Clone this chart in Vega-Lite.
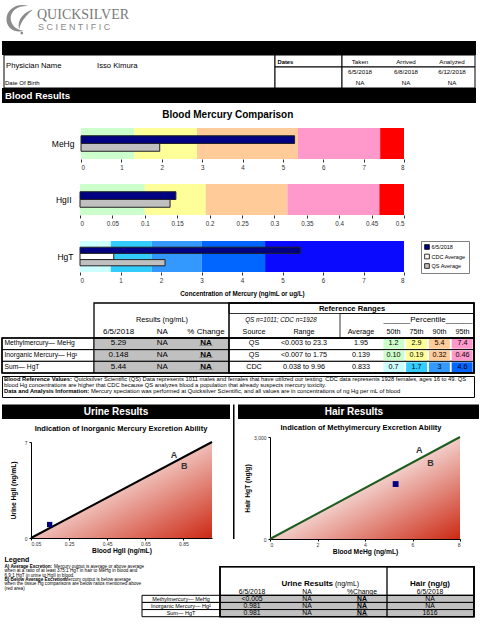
{
"$schema":"https://vega.github.io/schema/vega-lite/v6.json",
"padding":{"left":1,"top":0,"right":0,"bottom":0},
"spacing":0,
"config":{"font":"Liberation Sans","view":{"stroke":null},"text":{"baseline":"middle","color":"#000"},"title":{"color":"#000"}},
"datasets":{
"bands":[
{"analyte":"MeHg","level":"below 50th","from":0,"to":1.32},
{"analyte":"MeHg","level":"50th–75th","from":1.32,"to":2.87},
{"analyte":"MeHg","level":"75th–90th","from":2.87,"to":5.37},
{"analyte":"MeHg","level":"90th–95th","from":5.37,"to":7.41},
{"analyte":"MeHg","level":"above 95th","from":7.41,"to":8},
{"analyte":"HgII","level":"below 50th","from":0,"to":0.1},
{"analyte":"HgII","level":"50th–75th","from":0.1,"to":0.194},
{"analyte":"HgII","level":"75th–90th","from":0.194,"to":0.32},
{"analyte":"HgII","level":"90th–95th","from":0.32,"to":0.462},
{"analyte":"HgII","level":"above 95th","from":0.462,"to":0.5},
{"analyte":"HgT","level":"below 50th","from":0,"to":0.76},
{"analyte":"HgT","level":"50th–75th","from":0.76,"to":1.77},
{"analyte":"HgT","level":"75th–90th","from":1.77,"to":3.0},
{"analyte":"HgT","level":"90th–95th","from":3.0,"to":4.57},
{"analyte":"HgT","level":"above 95th","from":4.57,"to":8}
],
"measures":[
{"analyte":"MeHg","series":"6/5/2018","value":5.29},
{"analyte":"MeHg","series":"QS Average","value":1.95},
{"analyte":"HgII","series":"6/5/2018","value":0.148},
{"analyte":"HgII","series":"QS Average","value":0.139},
{"analyte":"HgT","series":"6/5/2018","value":5.44},
{"analyte":"HgT","series":"CDC Average","value":0.833},
{"analyte":"HgT","series":"QS Average","value":2.1}
],
"table":[
{"analyte":"header","label":"","result":"6/5/2018","previous":"NA","change":"% Change","source":"Source","range":"Range","average":"Average","p50":"50th","p75":"75th","p90":"90th","p95":"95th"},
{"analyte":"MeHg","label":"Methylmercury— MeHg","result":"5.29","previous":"NA","change":"NA","source":"QS","range":"<0.003 to 23.3","average":"1.95","p50":"1.2","p75":"2.9","p90":"5.4","p95":"7.4"},
{"analyte":"HgII","label":"Inorganic Mercury— Hg²","result":"0.148","previous":"NA","change":"NA","source":"QS","range":"<0.007 to 1.75","average":"0.139","p50":"0.10","p75":"0.19","p90":"0.32","p95":"0.46"},
{"analyte":"HgT","label":"Sum— HgT","result":"5.44","previous":"NA","change":"NA","source":"CDC","range":"0.038 to 9.96","average":"0.833","p50":"0.7","p75":"1.7","p90":"3","p95":"4.6"}
],
"events":[
{"event":"Taken","date":"6/5/2018","note":"NA"},
{"event":"Arrived","date":"6/8/2018","note":"NA"},
{"event":"Analyzed","date":"6/12/2018","note":"NA"}
],
"urine":[
{"analyte":"header","label":"","result":"6/5/2018","previous":"NA","change":"%Change","hair":"6/5/2018"},
{"analyte":"MeHg","label":"Methylmercury— MeHg","result":"<0.005","previous":"NA","change":"NA","hair":"NA"},
{"analyte":"HgII","label":"Inorganic Mercury— Hg²","result":"0.981","previous":"NA","change":"NA","hair":"NA"},
{"analyte":"HgT","label":"Sum— HgT","result":"0.981","previous":"NA","change":"NA","hair":"1616"}
],
"urineRatio":[{"bloodHgII":0.05,"urineHgII":0},{"bloodHgII":1.0,"urineHgII":7}],
"hairRatio":[{"bloodMeHg":0,"hairHgT":0},{"bloodMeHg":8,"hairHgT":3000}]
},
"vconcat":[
{
"width":474,"height":110,
"resolve":{"scale":{"x":"independent","y":"independent"}},
"layer":[
{"data":{"values":[{"part":"logo"}]},"mark":{"type":"point","shape":"M0.55,-0.8 C-0.15,-1.05 -0.95,-0.6 -0.9,0.15 C-0.85,0.75 -0.3,1 0.25,0.85 C-0.3,0.8 -0.65,0.4 -0.62,-0.05 C-0.58,-0.55 -0.05,-0.85 0.55,-0.8 Z M0.85,-0.55 C0.4,-0.45 -0.25,0.05 -0.05,0.75 C0.05,0.2 0.45,-0.2 0.85,-0.55 Z M0.12,0.92 C0.24,0.92 0.24,1.1 0.12,1.1 C0,1.1 0,0.92 0.12,0.92 Z","filled":true,"color":"#8c8c8c","opacity":1,"size":900},
 "encoding":{"x":{"datum":"k","type":"nominal","scale":{"type":"point","domain":["k"],"range":[18,18]},"axis":null},"y":{"datum":"k","type":"nominal","scale":{"type":"point","domain":["k"],"range":[18,18]},"axis":null}}},
{"data":{"values":[{"brand":"QUICKSILVER"}]},"mark":{"type":"text","font":"Liberation Serif","fontSize":14,"color":"#7a7a7a","align":"left"},
 "encoding":{"x":{"datum":"k","type":"nominal","scale":{"type":"point","domain":["k"],"range":[35,35]},"axis":null},"y":{"datum":"k","type":"nominal","scale":{"type":"point","domain":["k"],"range":[15,15]},"axis":null},"text":{"field":"brand"}}},
{"data":{"values":[{"brand":"S  C  I  E  N  T  I  F  I  C"}]},"mark":{"type":"text","fontSize":9,"color":"#8a8a8a","align":"left"},
 "encoding":{"x":{"datum":"k","type":"nominal","scale":{"type":"point","domain":["k"],"range":[36,36]},"axis":null},"y":{"datum":"k","type":"nominal","scale":{"type":"point","domain":["k"],"range":[26.5,26.5]},"axis":null},"text":{"field":"brand"}}},
{"data":{"values":[{"band":"masthead"}]},"mark":{"type":"rect","color":"#000"},
 "encoding":{"x":{"datum":"k","type":"nominal","scale":{"type":"band","domain":["k"],"range":[0,474],"padding":0},"axis":null},"y":{"datum":"k","type":"nominal","scale":{"type":"band","domain":["k"],"range":[41,55],"padding":0},"axis":null}}},
{"data":{"values":[{"box":"physician"}]},"mark":{"type":"rect","fill":"#fff","stroke":"#000","strokeWidth":1},
 "encoding":{"x":{"datum":"k","type":"nominal","scale":{"type":"band","domain":["k"],"range":[2,273],"padding":0},"axis":null},"y":{"datum":"k","type":"nominal","scale":{"type":"band","domain":["k"],"range":[55,88],"padding":0},"axis":null}}},
{"data":{"values":[{"box":"dates head"}]},"mark":{"type":"rect","fill":"#fff","stroke":"#000","strokeWidth":1},
 "encoding":{"x":{"datum":"k","type":"nominal","scale":{"type":"band","domain":["k"],"range":[273,340],"padding":0},"axis":null},"y":{"datum":"k","type":"nominal","scale":{"type":"band","domain":["k"],"range":[55,67],"padding":0},"axis":null}}},
{"data":{"values":[{"box":"dates body"}]},"mark":{"type":"rect","fill":"#fff","stroke":"#000","strokeWidth":1},
 "encoding":{"x":{"datum":"k","type":"nominal","scale":{"type":"band","domain":["k"],"range":[273,340],"padding":0},"axis":null},"y":{"datum":"k","type":"nominal","scale":{"type":"band","domain":["k"],"range":[67,88],"padding":0},"axis":null}}},
{"data":{"values":[{"box":"events head"}]},"mark":{"type":"rect","fill":"#fff","stroke":"#000","strokeWidth":1},
 "encoding":{"x":{"datum":"k","type":"nominal","scale":{"type":"band","domain":["k"],"range":[340,473],"padding":0},"axis":null},"y":{"datum":"k","type":"nominal","scale":{"type":"band","domain":["k"],"range":[55,67],"padding":0},"axis":null}}},
{"data":{"values":[{"box":"events body"}]},"mark":{"type":"rect","fill":"#fff","stroke":"#000","strokeWidth":1},
 "encoding":{"x":{"datum":"k","type":"nominal","scale":{"type":"band","domain":["k"],"range":[340,473],"padding":0},"axis":null},"y":{"datum":"k","type":"nominal","scale":{"type":"band","domain":["k"],"range":[67,88],"padding":0},"axis":null}}},
{"data":{"values":[{"item":"label","text":"Physician Name"},{"item":"value","text":"Isso Kimura"}]},"mark":{"type":"text","fontSize":7.7,"align":"left"},
 "encoding":{"x":{"field":"item","type":"nominal","scale":{"type":"point","domain":["label","value"],"range":[4,95],"padding":0},"axis":null},"y":{"datum":"k","type":"nominal","scale":{"type":"point","domain":["k"],"range":[66,66]},"axis":null},"text":{"field":"text"}}},
{"data":{"values":[{"text":"Date Of Birth"}]},"mark":{"type":"text","fontSize":6,"align":"left"},
 "encoding":{"x":{"datum":"k","type":"nominal","scale":{"type":"point","domain":["k"],"range":[3,3]},"axis":null},"y":{"datum":"k","type":"nominal","scale":{"type":"point","domain":["k"],"range":[82.5,82.5]},"axis":null},"text":{"field":"text"}}},
{"data":{"values":[{"text":"Dates"}]},"mark":{"type":"text","fontSize":5.8,"fontWeight":"bold","align":"left"},
 "encoding":{"x":{"datum":"k","type":"nominal","scale":{"type":"point","domain":["k"],"range":[275.5,275.5]},"axis":null},"y":{"datum":"k","type":"nominal","scale":{"type":"point","domain":["k"],"range":[61.5,61.5]},"axis":null},"text":{"field":"text"}}},
{"data":{"name":"events"},"mark":{"type":"text","fontSize":6.2},
 "encoding":{"x":{"field":"event","type":"nominal","scale":{"type":"point","domain":["Taken","Arrived","Analyzed"],"range":[358,450],"padding":0},"axis":null},"y":{"datum":"k","type":"nominal","scale":{"type":"point","domain":["k"],"range":[61.5,61.5]},"axis":null},"text":{"field":"event"}}},
{"data":{"name":"events"},"transform":[{"fold":["date","note"]}],"mark":{"type":"text","fontSize":6.2},
 "encoding":{"x":{"field":"event","type":"nominal","scale":{"type":"point","domain":["Taken","Arrived","Analyzed"],"range":[358,450],"padding":0},"axis":null},"y":{"field":"key","type":"nominal","scale":{"type":"point","domain":["date","note"],"range":[72,83],"padding":0},"axis":null},"text":{"field":"value"}}},
{"data":{"values":[{"band":"Blood Results"}]},"mark":{"type":"rect","color":"#000"},
 "encoding":{"x":{"datum":"k","type":"nominal","scale":{"type":"band","domain":["k"],"range":[0,474],"padding":0},"axis":null},"y":{"datum":"k","type":"nominal","scale":{"type":"band","domain":["k"],"range":[88,103],"padding":0},"axis":null}}},
{"data":{"values":[{"band":"Blood Results"}]},"mark":{"type":"text","color":"#fff","fontSize":9.7,"fontWeight":"bold","align":"left"},
 "encoding":{"x":{"datum":"k","type":"nominal","scale":{"type":"point","domain":["k"],"range":[3,3]},"axis":null},"y":{"datum":"k","type":"nominal","scale":{"type":"point","domain":["k"],"range":[95.8,95.8]},"axis":null},"text":{"field":"band"}}}
]
},
{
"title":{"text":"Blood Mercury Comparison","fontSize":10,"fontWeight":"bold","anchor":"middle","offset":8,"dx":-8},
"spacing":13,
"resolve":{"scale":{"fill":"independent","color":"independent","yOffset":"independent","x":"independent","y":"independent"}},
"vconcat":[
{"width":402,"height":31,"layer":[
 {"data":{"name":"bands"},"transform":[{"filter":"datum.analyte === 'MeHg'"}],"mark":{"type":"rect"},
  "encoding":{
   "x":{"field":"from","type":"quantitative","scale":{"domain":[0,8],"range":[79,402],"nice":false,"zero":false},"axis":{"values":[0,1,2,3,4,5,6,7,8],"title":null,"grid":false,"domain":false,"tickSize":3,"tickColor":"#333","labelFontSize":6.3,"labelColor":"#333","labelPadding":2}},
   "x2":{"field":"to"},
   "y":{"field":"analyte","type":"nominal","scale":{"padding":0},"axis":{"title":null,"ticks":false,"domain":false,"labelFontSize":8.5,"labelColor":"#000","labelPadding":7,"offset":-79,"minExtent":0}},
   "fill":{"field":"level","type":"nominal","scale":{"domain":["below 50th","50th–75th","75th–90th","90th–95th","above 95th"],"range":["#ccffcc","#ffff99","#ffcc99","#ff99cc","#ff0000"]},"legend":null}}},
 {"data":{"name":"measures"},"transform":[{"filter":"datum.analyte === 'MeHg'"}],"mark":{"type":"bar","stroke":"#222","strokeWidth":1},
  "encoding":{
   "x":{"field":"value","type":"quantitative"},
   "y":{"field":"analyte","type":"nominal"},
   "yOffset":{"field":"series","type":"nominal","scale":{"domain":["top","6/5/2018","QS Average","bottom"],"padding":0}},
   "color":{"field":"series","type":"nominal","scale":{"domain":["6/5/2018","CDC Average","QS Average"],"range":["#000080","#ffffff","#c0c0c0"]},"legend":null}}}
]},
{"width":402,"height":31,"layer":[
 {"data":{"name":"bands"},"transform":[{"filter":"datum.analyte === 'HgII'"}],"mark":{"type":"rect"},
  "encoding":{
   "x":{"field":"from","type":"quantitative","scale":{"domain":[0,0.5],"range":[78,402],"nice":false,"zero":false},"axis":{"values":[0,0.05,0.1,0.15,0.2,0.25,0.3,0.35,0.4,0.45,0.5],"format":"~g","title":null,"grid":false,"domain":false,"tickSize":3,"tickColor":"#333","labelFontSize":6.3,"labelColor":"#333","labelPadding":2}},
   "x2":{"field":"to"},
   "y":{"field":"analyte","type":"nominal","scale":{"padding":0},"axis":{"title":null,"ticks":false,"domain":false,"labelFontSize":8.5,"labelColor":"#000","labelPadding":9,"offset":-78,"minExtent":0}},
   "fill":{"field":"level","type":"nominal","scale":{"domain":["below 50th","50th–75th","75th–90th","90th–95th","above 95th"],"range":["#ccffcc","#ffff99","#ffcc99","#ff99cc","#ff0000"]},"legend":null}}},
 {"data":{"name":"measures"},"transform":[{"filter":"datum.analyte === 'HgII'"}],"mark":{"type":"bar","stroke":"#222","strokeWidth":1},
  "encoding":{
   "x":{"field":"value","type":"quantitative"},
   "y":{"field":"analyte","type":"nominal"},
   "yOffset":{"field":"series","type":"nominal","scale":{"domain":["top","6/5/2018","QS Average","bottom"],"padding":0}},
   "color":{"field":"series","type":"nominal","scale":{"domain":["6/5/2018","CDC Average","QS Average"],"range":["#000080","#ffffff","#c0c0c0"]},"legend":null}}}
]},
{"width":402,"height":31,"layer":[
 {"data":{"name":"bands"},"transform":[{"filter":"datum.analyte === 'HgT'"}],"mark":{"type":"rect"},
  "encoding":{
   "x":{"field":"from","type":"quantitative","scale":{"domain":[0,8],"range":[78,402],"nice":false,"zero":false},"axis":{"values":[0,1,2,3,4,5,6,7,8],"title":"Concentration of Mercury (ng/mL or ug/L)","titleFontSize":6.3,"titleFontWeight":"bold","titlePadding":7,"titleColor":"#000","grid":false,"domain":false,"tickSize":3,"tickColor":"#333","labelFontSize":6.3,"labelColor":"#333","labelPadding":2}},
   "x2":{"field":"to"},
   "y":{"field":"analyte","type":"nominal","scale":{"padding":0},"axis":{"title":null,"ticks":false,"domain":false,"labelFontSize":8.5,"labelColor":"#000","labelPadding":7,"offset":-78,"minExtent":0}},
   "fill":{"field":"level","type":"nominal","scale":{"domain":["below 50th","50th–75th","75th–90th","90th–95th","above 95th"],"range":["#ccffff","#33ccff","#3399ff","#0066ff","#0a0aff"]},"legend":null}}},
 {"data":{"name":"measures"},"transform":[{"filter":"datum.analyte === 'HgT'"}],"mark":{"type":"bar","stroke":"#222","strokeWidth":1},
  "encoding":{
   "x":{"field":"value","type":"quantitative"},
   "y":{"field":"analyte","type":"nominal"},
   "yOffset":{"field":"series","type":"nominal","scale":{"domain":["top","6/5/2018","CDC Average","QS Average","bottom"],"padding":0}},
   "color":{"field":"series","type":"nominal","scale":{"domain":["6/5/2018","CDC Average","QS Average"],"range":["#000080","#ffffff","#c0c0c0"]},"legend":{"title":null,"orient":"right","offset":17,"padding":3,"strokeColor":"#7f7f7f","fillColor":"#fff","labelFontSize":5.5,"labelColor":"#000","symbolType":"square","symbolSize":22,"symbolStrokeColor":"#000","symbolStrokeWidth":0.8,"rowPadding":1.5,"labelOffset":1.5,"symbolOpacity":1}}}}
]}
]
},
{
"width":474,"height":78,
"data":{"name":"table"},
"resolve":{"scale":{"x":"independent","y":"independent","fill":"independent"}},
"layer":[
{"transform":[{"filter":"datum.analyte !== 'header'"}],"mark":{"type":"rect","fill":"#fff","stroke":"#000","strokeWidth":1},
 "encoding":{"x":{"datum":"k","type":"nominal","scale":{"type":"band","domain":["k"],"range":[0,92],"padding":0},"axis":null},"y":{"field":"analyte","type":"nominal","scale":{"type":"band","domain":["MeHg","HgII","HgT"],"range":[41,76],"padding":0},"axis":null}}},
{"transform":[{"filter":"datum.analyte !== 'header'"}],"mark":{"type":"rect","fill":"#c0c0c0","stroke":"#000","strokeWidth":1},
 "encoding":{"x":{"datum":"k","type":"nominal","scale":{"type":"band","domain":["k"],"range":[92,227],"padding":0},"axis":null},"y":{"field":"analyte","type":"nominal","scale":{"type":"band","domain":["MeHg","HgII","HgT"],"range":[41,76],"padding":0},"axis":null}}},
{"transform":[{"filter":"datum.analyte !== 'header'"}],"mark":{"type":"rect","fill":"#fff","stroke":"#000","strokeWidth":1},
 "encoding":{"x":{"datum":"k","type":"nominal","scale":{"type":"band","domain":["k"],"range":[227,472],"padding":0},"axis":null},"y":{"field":"analyte","type":"nominal","scale":{"type":"band","domain":["MeHg","HgII","HgT"],"range":[41,76],"padding":0},"axis":null}}},
{"transform":[{"filter":"datum.analyte === 'MeHg' || datum.analyte === 'HgII'"},{"fold":["p50","p75","p90","p95"]}],"mark":{"type":"rect"},
 "encoding":{"x":{"field":"key","type":"nominal","scale":{"type":"band","domain":["p50","p75","p90","p95"],"range":[380.5,471.5],"paddingInner":0.08,"paddingOuter":0.04},"axis":null},"y":{"field":"analyte","type":"nominal","scale":{"type":"band","domain":["MeHg","HgII","HgT"],"range":[41,76],"paddingInner":0.16,"paddingOuter":0.08},"axis":null},
 "fill":{"field":"key","type":"nominal","scale":{"domain":["p50","p75","p90","p95"],"range":["#ccffcc","#ffff99","#ffcc99","#ff99cc"]},"legend":null}}},
{"transform":[{"filter":"datum.analyte === 'HgT'"},{"fold":["p50","p75","p90","p95"]}],"mark":{"type":"rect"},
 "encoding":{"x":{"field":"key","type":"nominal","scale":{"type":"band","domain":["p50","p75","p90","p95"],"range":[380.5,471.5],"paddingInner":0.08,"paddingOuter":0.04},"axis":null},"y":{"field":"analyte","type":"nominal","scale":{"type":"band","domain":["MeHg","HgII","HgT"],"range":[41,76],"paddingInner":0.16,"paddingOuter":0.08},"axis":null},
 "fill":{"field":"key","type":"nominal","scale":{"domain":["p50","p75","p90","p95"],"range":["#ccffff","#33ccff","#3399ff","#0066ff"]},"legend":null}}},
{"data":{"values":[{"block":"results header"}]},"mark":{"type":"rect","fillOpacity":0,"stroke":"#000","strokeWidth":1.3},
 "encoding":{"x":{"datum":"k","type":"nominal","scale":{"type":"band","domain":["k"],"range":[92,472],"padding":0},"axis":null},"y":{"datum":"k","type":"nominal","scale":{"type":"band","domain":["k"],"range":[6,41],"padding":0},"axis":null}}},
{"data":{"values":[{"block":"data outline"}]},"mark":{"type":"rect","fillOpacity":0,"stroke":"#000","strokeWidth":1.5},
 "encoding":{"x":{"datum":"k","type":"nominal","scale":{"type":"band","domain":["k"],"range":[0,472],"padding":0},"axis":null},"y":{"datum":"k","type":"nominal","scale":{"type":"band","domain":["k"],"range":[41,76],"padding":0},"axis":null}}},
{"data":{"values":[{"block":"reference outline"}]},"mark":{"type":"rect","fillOpacity":0,"stroke":"#000","strokeWidth":1.5},
 "encoding":{"x":{"datum":"k","type":"nominal","scale":{"type":"band","domain":["k"],"range":[227,472],"padding":0},"axis":null},"y":{"datum":"k","type":"nominal","scale":{"type":"band","domain":["k"],"range":[6,76],"padding":0},"axis":null}}},
{"data":{"values":[{"block":"reference title"}]},"mark":{"type":"rect","fillOpacity":0,"stroke":"#000","strokeWidth":0.8},
 "encoding":{"x":{"datum":"k","type":"nominal","scale":{"type":"band","domain":["k"],"range":[227,472],"padding":0},"axis":null},"y":{"datum":"k","type":"nominal","scale":{"type":"band","domain":["k"],"range":[6,16.5],"padding":0},"axis":null}}},
{"data":{"values":[{"block":"average header"}]},"mark":{"type":"rect","fillOpacity":0,"stroke":"#000","strokeWidth":0.8},
 "encoding":{"x":{"datum":"k","type":"nominal","scale":{"type":"band","domain":["k"],"range":[338,472],"padding":0},"axis":null},"y":{"datum":"k","type":"nominal","scale":{"type":"band","domain":["k"],"range":[16.5,41],"padding":0},"axis":null}}},
{"transform":[{"filter":"datum.analyte !== 'header'"}],"mark":{"type":"text","align":"left","fontSize":6.7},
 "encoding":{"x":{"datum":"k","type":"nominal","scale":{"type":"point","domain":["k"],"range":[2.5,2.5]},"axis":null},"y":{"field":"analyte","type":"nominal","scale":{"type":"point","domain":["title","subtitle","header","MeHg","HgII","HgT"],"range":[11.5,69.5],"padding":0},"axis":null},"text":{"field":"label"}}},
{"transform":[{"fold":["result","previous"]}],"mark":{"type":"text","fontSize":8},
 "encoding":{"x":{"field":"key","type":"nominal","scale":{"type":"point","domain":["result","previous","change"],"range":[116.5,204],"padding":0},"axis":null},"y":{"field":"analyte","type":"nominal","scale":{"type":"point","domain":["title","subtitle","header","MeHg","HgII","HgT"],"range":[11.5,69.5],"padding":0},"axis":null},"text":{"field":"value"}}},
{"transform":[{"filter":"datum.analyte === 'header'"}],"mark":{"type":"text","fontSize":8},
 "encoding":{"x":{"datum":"k","type":"nominal","scale":{"type":"point","domain":["k"],"range":[204,204]},"axis":null},"y":{"field":"analyte","type":"nominal","scale":{"type":"point","domain":["title","subtitle","header","MeHg","HgII","HgT"],"range":[11.5,69.5],"padding":0},"axis":null},"text":{"field":"change"}}},
{"transform":[{"filter":"datum.analyte !== 'header'"}],"mark":{"type":"text","fontSize":8,"fontWeight":"bold"},
 "encoding":{"x":{"datum":"k","type":"nominal","scale":{"type":"point","domain":["k"],"range":[204,204]},"axis":null},"y":{"field":"analyte","type":"nominal","scale":{"type":"point","domain":["title","subtitle","header","MeHg","HgII","HgT"],"range":[11.5,69.5],"padding":0},"axis":null},"text":{"field":"change"}}},
{"transform":[{"filter":"datum.analyte !== 'header'"}],"mark":{"type":"text","fontSize":8,"fontWeight":"bold","text":"___"},
 "encoding":{"x":{"datum":"k","type":"nominal","scale":{"type":"point","domain":["k"],"range":[204,204]},"axis":null},"y":{"field":"analyte","type":"nominal","scale":{"type":"point","domain":["title","subtitle","header","MeHg","HgII","HgT"],"range":[11.5,69.5],"padding":0},"axis":null}}},
{"transform":[{"fold":["source","range"]}],"mark":{"type":"text","fontSize":7.2},
 "encoding":{"x":{"field":"key","type":"nominal","scale":{"type":"point","domain":["source","range"],"range":[252,302],"padding":0},"axis":null},"y":{"field":"analyte","type":"nominal","scale":{"type":"point","domain":["title","subtitle","header","MeHg","HgII","HgT"],"range":[11.5,69.5],"padding":0},"axis":null},"text":{"field":"value"}}},
{"mark":{"type":"text","fontSize":7.2},
 "encoding":{"x":{"datum":"k","type":"nominal","scale":{"type":"point","domain":["k"],"range":[359,359]},"axis":null},"y":{"field":"analyte","type":"nominal","scale":{"type":"point","domain":["title","subtitle","header","MeHg","HgII","HgT"],"range":[11.5,69.5],"padding":0},"axis":null},"text":{"field":"average"}}},
{"transform":[{"fold":["p50","p75","p90","p95"]}],"mark":{"type":"text","fontSize":7.2},
 "encoding":{"x":{"field":"key","type":"nominal","scale":{"type":"point","domain":["p50","p75","p90","p95"],"range":[391.5,460.5],"padding":0},"axis":null},"y":{"field":"analyte","type":"nominal","scale":{"type":"point","domain":["title","subtitle","header","MeHg","HgII","HgT"],"range":[11.5,69.5],"padding":0},"axis":null},"text":{"field":"value"}}},
{"data":{"values":[{"heading":"Reference Ranges"}]},"mark":{"type":"text","fontSize":7.6,"fontWeight":"bold"},
 "encoding":{"x":{"datum":"k","type":"nominal","scale":{"type":"point","domain":["k"],"range":[350,350]},"axis":null},"y":{"datum":"title","type":"nominal","scale":{"type":"point","domain":["title","subtitle","header","MeHg","HgII","HgT"],"range":[11.5,69.5],"padding":0},"axis":null},"text":{"field":"heading"}}},
{"data":{"values":[{"heading":"Results (ng/mL)"}]},"mark":{"type":"text","fontSize":7.4},
 "encoding":{"x":{"datum":"k","type":"nominal","scale":{"type":"point","domain":["k"],"range":[160,160]},"axis":null},"y":{"datum":"subtitle","type":"nominal","scale":{"type":"point","domain":["title","subtitle","header","MeHg","HgII","HgT"],"range":[11.5,69.5],"padding":0},"axis":null},"text":{"field":"heading"}}},
{"data":{"values":[{"heading":"QS n=1011; CDC n=1928"}]},"mark":{"type":"text","fontSize":6.3,"fontStyle":"italic"},
 "encoding":{"x":{"datum":"k","type":"nominal","scale":{"type":"point","domain":["k"],"range":[279,279]},"axis":null},"y":{"datum":"subtitle","type":"nominal","scale":{"type":"point","domain":["title","subtitle","header","MeHg","HgII","HgT"],"range":[11.5,69.5],"padding":0},"axis":null},"text":{"field":"heading"}}},
{"data":{"values":[{"heading":"______Percentile______"}]},"mark":{"type":"text","fontSize":8},
 "encoding":{"x":{"datum":"k","type":"nominal","scale":{"type":"point","domain":["k"],"range":[426,426]},"axis":null},"y":{"datum":"subtitle","type":"nominal","scale":{"type":"point","domain":["title","subtitle","header","MeHg","HgII","HgT"],"range":[11.5,69.5],"padding":0},"axis":null},"text":{"field":"heading"}}}
]
},
{
"width":472,"height":21,
"view":{"stroke":"#000","strokeWidth":1},
"resolve":{"scale":{"x":"independent","y":"independent"}},
"layer":[
{"data":{"values":[{"line":"1","text":"Blood Reference Values:"},{"line":"3","text":"Data and Analysis Information:"}]},"mark":{"type":"text","fontSize":5.8,"fontWeight":"bold","align":"left"},
 "encoding":{"x":{"datum":"k","type":"nominal","scale":{"type":"point","domain":["k"],"range":[2,2]},"axis":null},"y":{"field":"line","type":"nominal","scale":{"type":"point","domain":["1","2","3"],"range":[3.2,15.2],"padding":0},"axis":null},"text":{"field":"text"}}},
{"data":{"values":[{"line":"2","text":"blood Hg concentrations are higher that CDC because QS analyzes blood a population that already suspects mercury toxicity."}]},"mark":{"type":"text","fontSize":5.8,"align":"left"},
 "encoding":{"x":{"datum":"k","type":"nominal","scale":{"type":"point","domain":["k"],"range":[2,2]},"axis":null},"y":{"field":"line","type":"nominal","scale":{"type":"point","domain":["1","2","3"],"range":[3.2,15.2],"padding":0},"axis":null},"text":{"field":"text"}}},
{"data":{"values":[{"line":"1","text":"Quicksilver Scientific (QS) Data represents 1011 males and females that have utilized our testing. CDC data represents 1928 females, ages 16 to 49. QS"},{"line":"3","text":"Mercury speciation was performed at Quicksilver Scientific, and all values are in concentrations of ng Hg per mL of blood"}]},"mark":{"type":"text","fontSize":5.8,"align":"left"},
 "encoding":{"x":{"field":"line","type":"nominal","scale":{"type":"point","domain":["1","3"],"range":[72,89],"padding":0},"axis":null},"y":{"field":"line","type":"nominal","scale":{"type":"point","domain":["1","2","3"],"range":[3.2,15.2],"padding":0},"axis":null},"text":{"field":"text"}}}
]
},
{
"spacing":3,
"hconcat":[
{"spacing":0,"vconcat":[
 {"width":228,"height":26,"data":{"values":[{"section":"Urine Results"}]},"resolve":{"scale":{"x":"independent","y":"independent"}},"layer":[
  {"mark":{"type":"rect","color":"#000"},"encoding":{"x":{"datum":"k","type":"nominal","scale":{"type":"band","domain":["k"],"range":[0,228],"padding":0},"axis":null},"y":{"datum":"k","type":"nominal","scale":{"type":"band","domain":["k"],"range":[6.5,21],"padding":0},"axis":null}}},
  {"mark":{"type":"text","color":"#fff","fontSize":10,"fontWeight":"bold"},"encoding":{"x":{"datum":"k","type":"nominal","scale":{"type":"point","domain":["k"],"range":[114,114]},"axis":null},"y":{"datum":"k","type":"nominal","scale":{"type":"point","domain":["k"],"range":[14,14]},"axis":null},"text":{"field":"section"}}}
 ]},
 {"width":210,"height":96,
  "title":{"text":"Indication of Inorganic Mercury Excretion Ability","fontSize":7.5,"fontWeight":"bold","anchor":"middle","frame":"group","offset":6,"dx":14},
  "layer":[
   {"data":{"name":"urineRatio"},"mark":{"type":"area","color":{"gradient":"linear","x1":0,"y1":0,"x2":1,"y2":1,"stops":[{"offset":0,"color":"#ffffff"},{"offset":0.5,"color":"#efbdb6"},{"offset":1,"color":"#cc2914"}]}},
    "encoding":{
     "x":{"field":"bloodHgII","type":"quantitative","scale":{"domain":[0.05,1],"range":[29,210],"nice":false,"zero":false},"axis":{"title":"Blood HgII (ng/mL)","values":[0.05,0.25,0.45,0.65,0.85],"format":".2f","grid":false,"domainColor":"#000","tickColor":"#000","tickSize":2,"labelFontSize":5,"labelColor":"#333","labelPadding":1,"titleFontSize":6.7,"titleFontWeight":"bold","titlePadding":1,"titleColor":"#000"}},
     "y":{"field":"urineHgII","type":"quantitative","scale":{"domain":[0,7],"nice":false},"axis":{"title":"Urine HgII (ng/mL)","offset":-29,"values":[0,1,2,3,4,5,6,7],"grid":false,"domainColor":"#000","tickColor":"#000","tickSize":2,"labelFontSize":5,"labelColor":"#333","labelPadding":2,"titleFontSize":6.7,"titleFontWeight":"bold","titlePadding":3,"titleColor":"#000","minExtent":12,"maxExtent":12}}}},
   {"data":{"name":"urineRatio"},"mark":{"type":"line","color":"#000","strokeWidth":2},
    "encoding":{"x":{"field":"bloodHgII","type":"quantitative"},"y":{"field":"urineHgII","type":"quantitative"}}},
   {"data":{"values":[{"bloodHgII":0.148,"urineHgII":0.981}]},"mark":{"type":"point","shape":"square","filled":true,"color":"#000080","size":28,"opacity":1},
    "encoding":{"x":{"field":"bloodHgII","type":"quantitative"},"y":{"field":"urineHgII","type":"quantitative"}}},
   {"data":{"values":[{"zone":"A","bloodHgII":0.8,"urineHgII":6.05},{"zone":"B","bloodHgII":0.855,"urineHgII":5.25}]},"mark":{"type":"text","fontSize":9,"fontWeight":"bold","color":"#333"},
    "encoding":{"x":{"field":"bloodHgII","type":"quantitative"},"y":{"field":"urineHgII","type":"quantitative"},"text":{"field":"zone"}}}
  ]}
]},
{"width":1.5,"height":141,"data":{"values":[{"rule":"divider"}]},"mark":{"type":"rect","color":"#000"},
 "encoding":{"x":{"datum":"k","type":"nominal","scale":{"type":"band","domain":["k"],"range":[0,1.5],"padding":0},"axis":null},"y":{"datum":"k","type":"nominal","scale":{"type":"band","domain":["k"],"range":[6.5,141],"padding":0},"axis":null}}},
{"spacing":0,"vconcat":[
 {"width":241,"height":26,"data":{"values":[{"section":"Hair Results"}]},"resolve":{"scale":{"x":"independent","y":"independent"}},"layer":[
  {"mark":{"type":"rect","color":"#000"},"encoding":{"x":{"datum":"k","type":"nominal","scale":{"type":"band","domain":["k"],"range":[0,241],"padding":0},"axis":null},"y":{"datum":"k","type":"nominal","scale":{"type":"band","domain":["k"],"range":[6.5,21],"padding":0},"axis":null}}},
  {"mark":{"type":"text","color":"#fff","fontSize":10,"fontWeight":"bold"},"encoding":{"x":{"datum":"k","type":"nominal","scale":{"type":"point","domain":["k"],"range":[116,116]},"axis":null},"y":{"datum":"k","type":"nominal","scale":{"type":"point","domain":["k"],"range":[14,14]},"axis":null},"text":{"field":"section"}}}
 ]},
 {"width":222,"height":102,
  "title":{"text":"Indication of Methylmercury Excretion Ability","fontSize":7.5,"fontWeight":"bold","anchor":"middle","frame":"group","offset":1.5,"dx":12},
  "layer":[
   {"data":{"name":"hairRatio"},"mark":{"type":"area","color":{"gradient":"linear","x1":0,"y1":0,"x2":1,"y2":1,"stops":[{"offset":0,"color":"#ffffff"},{"offset":0.5,"color":"#f2cdc8"},{"offset":1,"color":"#cc2914"}]}},
    "encoding":{
     "x":{"field":"bloodMeHg","type":"quantitative","scale":{"domain":[0,8],"range":[32,222],"nice":false},"axis":{"title":"Blood MeHg (ng/mL)","values":[0,1,2,3,4,5,6,7,8],"grid":false,"domainColor":"#000","tickColor":"#000","tickSize":2,"labelFontSize":5,"labelColor":"#333","labelPadding":1,"titleFontSize":6.7,"titleFontWeight":"bold","titlePadding":1,"titleColor":"#000"}},
     "y":{"field":"hairHgT","type":"quantitative","scale":{"domain":[0,3000],"nice":false},"axis":{"title":"Hair HgT (ng/g)","offset":-32,"values":[0,500,1000,1500,2000,2500,3000],"grid":false,"domainColor":"#000","tickColor":"#000","tickSize":2,"labelFontSize":5,"labelColor":"#333","labelPadding":2,"titleFontSize":6.7,"titleFontWeight":"bold","titlePadding":3.5,"titleColor":"#000","minExtent":16,"maxExtent":16}}}},
   {"data":{"name":"hairRatio"},"mark":{"type":"line","color":"#1f5c1f","strokeWidth":2},
    "encoding":{"x":{"field":"bloodMeHg","type":"quantitative"},"y":{"field":"hairHgT","type":"quantitative"}}},
   {"data":{"values":[{"bloodMeHg":5.29,"hairHgT":1616}]},"mark":{"type":"point","shape":"square","filled":true,"color":"#000080","size":34,"opacity":1},
    "encoding":{"x":{"field":"bloodMeHg","type":"quantitative"},"y":{"field":"hairHgT","type":"quantitative"}}},
   {"data":{"values":[{"zone":"A","bloodMeHg":6.28,"hairHgT":2618},{"zone":"B","bloodMeHg":6.76,"hairHgT":2228}]},"mark":{"type":"text","fontSize":9,"fontWeight":"bold","color":"#333"},
    "encoding":{"x":{"field":"bloodMeHg","type":"quantitative"},"y":{"field":"hairHgT","type":"quantitative"},"text":{"field":"zone"}}}
  ]}
]}
]
},
{
"width":474,"height":74,
"data":{"name":"urine"},
"resolve":{"scale":{"x":"independent","y":"independent"}},
"layer":[
{"data":{"values":[{"t":"Legend"}]},"mark":{"type":"text","fontSize":7,"fontWeight":"bold","align":"left"},
 "encoding":{"x":{"datum":"k","type":"nominal","scale":{"type":"point","domain":["k"],"range":[2.5,2.5]},"axis":null},"y":{"datum":"k","type":"nominal","scale":{"type":"point","domain":["k"],"range":[3.6,3.6]},"axis":null},"text":{"field":"t"}}},
{"data":{"values":[{"line":"A","text":"A) Average Excretion:"},{"line":"B","text":"B) Below Average Excretion:"}]},"mark":{"type":"text","fontSize":4.6,"fontWeight":"bold","align":"left"},
 "encoding":{"x":{"datum":"k","type":"nominal","scale":{"type":"point","domain":["k"],"range":[2.5,2.5]},"axis":null},"y":{"field":"line","type":"nominal","scale":{"type":"point","domain":["A","A2","A3","B","B2","B3"],"range":[10.7,32.7],"padding":0},"axis":null},"text":{"field":"text"}}},
{"data":{"values":[{"line":"A2","text":"when at a ratio of at least 375:1 HgT in hair to MeHg in blood and"},{"line":"A3","text":"6.9:1 HgT in urine to HgII in blood."},{"line":"B2","text":"when the tissue Hg comparisons are below ratios mentioned above"},{"line":"B3","text":"(red area)"}]},"mark":{"type":"text","fontSize":4.6,"align":"left"},
 "encoding":{"x":{"datum":"k","type":"nominal","scale":{"type":"point","domain":["k"],"range":[2.5,2.5]},"axis":null},"y":{"field":"line","type":"nominal","scale":{"type":"point","domain":["A","A2","A3","B","B2","B3"],"range":[10.7,32.7],"padding":0},"axis":null},"text":{"field":"text"}}},
{"data":{"values":[{"line":"A","text":"Mercury output is average or above average"},{"line":"B","text":"Mercury output is below average"}]},"mark":{"type":"text","fontSize":4.6,"align":"left"},
 "encoding":{"x":{"field":"line","type":"nominal","scale":{"type":"point","domain":["A","B"],"range":[52,62.5],"padding":0},"axis":null},"y":{"field":"line","type":"nominal","scale":{"type":"point","domain":["A","A2","A3","B","B2","B3"],"range":[10.7,32.7],"padding":0},"axis":null},"text":{"field":"text"}}},
{"transform":[{"filter":"datum.analyte !== 'header'"}],"mark":{"type":"rect","fill":"#fff","stroke":"#000","strokeWidth":1},
 "encoding":{"x":{"datum":"k","type":"nominal","scale":{"type":"band","domain":["k"],"range":[140,218],"padding":0},"axis":null},"y":{"field":"analyte","type":"nominal","scale":{"type":"band","domain":["MeHg","HgII","HgT"],"range":[39.3,60.7],"padding":0},"axis":null}}},
{"transform":[{"filter":"datum.analyte !== 'header'"}],"mark":{"type":"rect","fill":"#c0c0c0","stroke":"#000","strokeWidth":1},
 "encoding":{"x":{"datum":"k","type":"nominal","scale":{"type":"band","domain":["k"],"range":[218,472],"padding":0},"axis":null},"y":{"field":"analyte","type":"nominal","scale":{"type":"band","domain":["MeHg","HgII","HgT"],"range":[39.3,60.7],"padding":0},"axis":null}}},
{"data":{"values":[{"block":"header"}]},"mark":{"type":"rect","fillOpacity":0,"stroke":"#000","strokeWidth":1.3},
 "encoding":{"x":{"datum":"k","type":"nominal","scale":{"type":"band","domain":["k"],"range":[218,472],"padding":0},"axis":null},"y":{"datum":"k","type":"nominal","scale":{"type":"band","domain":["k"],"range":[10.7,39.3],"padding":0},"axis":null}}},
{"data":{"values":[{"block":"hair column"}]},"mark":{"type":"rect","fillOpacity":0,"stroke":"#000","strokeWidth":1.3},
 "encoding":{"x":{"datum":"k","type":"nominal","scale":{"type":"band","domain":["k"],"range":[385,472],"padding":0},"axis":null},"y":{"datum":"k","type":"nominal","scale":{"type":"band","domain":["k"],"range":[10.7,60.7],"padding":0},"axis":null}}},
{"data":{"values":[{"block":"outline"}]},"mark":{"type":"rect","fillOpacity":0,"stroke":"#000","strokeWidth":1.6},
 "encoding":{"x":{"datum":"k","type":"nominal","scale":{"type":"band","domain":["k"],"range":[218,472],"padding":0},"axis":null},"y":{"datum":"k","type":"nominal","scale":{"type":"band","domain":["k"],"range":[10.7,60.7],"padding":0},"axis":null}}},
{"transform":[{"filter":"datum.analyte !== 'header'"}],"mark":{"type":"text","fontSize":5.5},
 "encoding":{"x":{"datum":"k","type":"nominal","scale":{"type":"point","domain":["k"],"range":[179,179]},"axis":null},"y":{"field":"analyte","type":"nominal","scale":{"type":"point","domain":["header","MeHg","HgII","HgT"],"range":[36,57.3],"padding":0},"axis":null},"text":{"field":"label"}}},
{"transform":[{"fold":["result","previous"]}],"mark":{"type":"text","fontSize":6.8},
 "encoding":{"x":{"field":"key","type":"nominal","scale":{"type":"point","domain":["result","previous","change"],"range":[250,360],"padding":0},"axis":null},"y":{"field":"analyte","type":"nominal","scale":{"type":"point","domain":["header","MeHg","HgII","HgT"],"range":[36,57.3],"padding":0},"axis":null},"text":{"field":"value"}}},
{"transform":[{"filter":"datum.analyte === 'header'"}],"mark":{"type":"text","fontSize":6.8},
 "encoding":{"x":{"datum":"k","type":"nominal","scale":{"type":"point","domain":["k"],"range":[360,360]},"axis":null},"y":{"field":"analyte","type":"nominal","scale":{"type":"point","domain":["header","MeHg","HgII","HgT"],"range":[36,57.3],"padding":0},"axis":null},"text":{"field":"change"}}},
{"transform":[{"filter":"datum.analyte !== 'header'"}],"mark":{"type":"text","fontSize":6.8,"fontWeight":"bold"},
 "encoding":{"x":{"datum":"k","type":"nominal","scale":{"type":"point","domain":["k"],"range":[360,360]},"axis":null},"y":{"field":"analyte","type":"nominal","scale":{"type":"point","domain":["header","MeHg","HgII","HgT"],"range":[36,57.3],"padding":0},"axis":null},"text":{"field":"change"}}},
{"transform":[{"filter":"datum.analyte !== 'header'"}],"mark":{"type":"text","fontSize":6.8,"fontWeight":"bold","text":"___"},
 "encoding":{"x":{"datum":"k","type":"nominal","scale":{"type":"point","domain":["k"],"range":[360,360]},"axis":null},"y":{"field":"analyte","type":"nominal","scale":{"type":"point","domain":["header","MeHg","HgII","HgT"],"range":[36,57.3],"padding":0},"axis":null}}},
{"mark":{"type":"text","fontSize":6.8},
 "encoding":{"x":{"datum":"k","type":"nominal","scale":{"type":"point","domain":["k"],"range":[428,428]},"axis":null},"y":{"field":"analyte","type":"nominal","scale":{"type":"point","domain":["header","MeHg","HgII","HgT"],"range":[36,57.3],"padding":0},"axis":null},"text":{"field":"hair"}}},
{"data":{"values":[{"heading":"Urine Results"}]},"mark":{"type":"text","fontSize":8,"fontWeight":"bold","align":"right"},
 "encoding":{"x":{"datum":"k","type":"nominal","scale":{"type":"point","domain":["k"],"range":[331,331]},"axis":null},"y":{"datum":"k","type":"nominal","scale":{"type":"point","domain":["k"],"range":[28,28]},"axis":null},"text":{"field":"heading"}}},
{"data":{"values":[{"heading":"(ng/mL)"}]},"mark":{"type":"text","fontSize":7,"align":"left"},
 "encoding":{"x":{"datum":"k","type":"nominal","scale":{"type":"point","domain":["k"],"range":[333,333]},"axis":null},"y":{"datum":"k","type":"nominal","scale":{"type":"point","domain":["k"],"range":[28,28]},"axis":null},"text":{"field":"heading"}}},
{"data":{"values":[{"heading":"Hair (ng/g)"}]},"mark":{"type":"text","fontSize":8,"fontWeight":"bold"},
 "encoding":{"x":{"datum":"k","type":"nominal","scale":{"type":"point","domain":["k"],"range":[428,428]},"axis":null},"y":{"datum":"k","type":"nominal","scale":{"type":"point","domain":["k"],"range":[28,28]},"axis":null},"text":{"field":"heading"}}}
]
}
]
}
